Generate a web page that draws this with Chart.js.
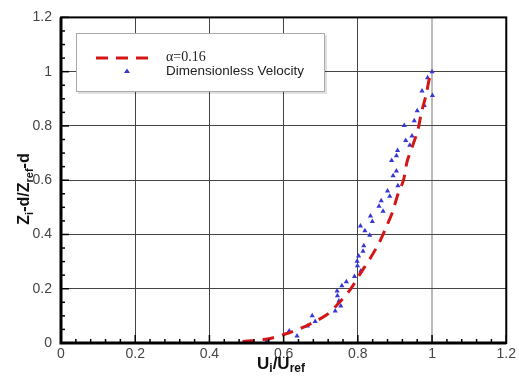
<!DOCTYPE html>
<html>
<head>
<meta charset="utf-8">
<script src="https://cdn.jsdelivr.net/npm/chart.js@4/dist/chart.umd.min.js"></script>
<style>
  html, body { margin: 0; padding: 0; background: #fff; }
  #wrap { width: 519px; height: 376px; position: relative; }
</style>
</head>
<body>
<div id="wrap"><canvas id="perfil"></canvas></div>
<script>
// measured points (U/Uref, Z/Zref)
const velU = [1.0, 0.988, 0.973, 1.001, 0.979, 0.96, 0.952, 0.925, 0.946, 0.929, 0.94, 0.907,
  0.904, 0.891, 0.904, 0.895, 0.908, 0.88, 0.886, 0.863, 0.857, 0.868, 0.834, 0.839,
  0.807, 0.819, 0.832, 0.816, 0.814, 0.802, 0.798, 0.799, 0.808, 0.791, 0.769, 0.757,
  0.744, 0.745, 0.749, 0.754, 0.739, 0.677, 0.685, 0.664, 0.615, 0.636, 0.555];
const velZ = [1.0, 0.978, 0.929, 0.912, 0.875, 0.856, 0.819, 0.802, 0.763, 0.746, 0.729, 0.709,
  0.69, 0.673, 0.634, 0.616, 0.58, 0.56, 0.541, 0.524, 0.504, 0.486, 0.468, 0.448,
  0.431, 0.414, 0.397, 0.358, 0.338, 0.321, 0.301, 0.285, 0.265, 0.245, 0.226, 0.211,
  0.192, 0.174, 0.155, 0.136, 0.118, 0.1, 0.079, 0.063, 0.044, 0.026, 0.006];

// power law curve alpha = 0.16
const perfilU = [0.489, 0.56, 0.609, 0.667, 0.716, 0.747, 0.778, 0.809, 0.835, 0.858, 0.876,
  0.893, 0.908, 0.923, 0.933, 0.947, 0.962, 0.971, 0.984, 0.993, 1.0];
const perfilZ = [0.005, 0.016, 0.035, 0.067, 0.104, 0.145, 0.194, 0.261, 0.316, 0.371, 0.426,
  0.481, 0.548, 0.6, 0.67, 0.725, 0.786, 0.847, 0.915, 0.975, 1.0];

const ticksX = [0, 0.2, 0.4, 0.6, 0.8, 1, 1.2];
const ticksY = [0, 0.2, 0.4, 0.6, 0.8, 1, 1.2];

const rojo = "rgb(212,22,22)";
const azul = "rgb(55,55,215)";

// subscript text helper
function textoSub(ctx, partes, x, y, size) {
  let w = 0;
  partes.forEach(p => {
    ctx.font = (p.sub ? "bold " + Math.round(size * 0.7) : "bold " + size) + "px 'Liberation Sans', Arial";
    w += ctx.measureText(p.t).width;
  });
  let cx = x - w / 2;
  partes.forEach(p => {
    const s = p.sub ? Math.round(size * 0.7) : size;
    ctx.font = "bold " + s + "px 'Liberation Sans', Arial";
    ctx.fillText(p.t, cx, p.sub ? y + size * 0.3 : y);
    cx += ctx.measureText(p.t).width;
  });
}

const marco = {
  id: "marco",
  afterDraw(chart) {
    const ctx = chart.ctx;
    const a = chart.chartArea;
    const sx = chart.scales.x, sy = chart.scales.y;
    ctx.save();
    ctx.strokeStyle = "#000";
    // minor + major ticks, inward
    ctx.lineWidth = 1.5;
    for (let i = 0; i <= 30; i++) {
      const px = sx.getPixelForValue(i * 0.04);
      const len = i % 5 === 0 ? 8 : 4;
      ctx.beginPath(); ctx.moveTo(px, a.bottom); ctx.lineTo(px, a.bottom - len); ctx.stroke();
    }
    for (let i = 0; i <= 24; i++) {
      const py = sy.getPixelForValue(i * 0.05);
      const len = i % 4 === 0 ? 8 : 4;
      ctx.beginPath(); ctx.moveTo(a.left, py); ctx.lineTo(a.left + len, py); ctx.stroke();
    }
    // frame
    ctx.lineWidth = 2;
    ctx.strokeRect(a.left, a.top, a.right - a.left, a.bottom - a.top);
    ctx.lineWidth = 3;
    ctx.beginPath();
    ctx.moveTo(a.left, a.top); ctx.lineTo(a.left, a.bottom); ctx.lineTo(a.right, a.bottom);
    ctx.stroke();

    // legend box
    ctx.fillStyle = "rgba(0,0,0,0.12)";
    ctx.fillRect(78, 35, 249, 59);
    ctx.fillStyle = "#fff";
    ctx.fillRect(76, 33, 249, 59);
    ctx.strokeStyle = "#aaa";
    ctx.lineWidth = 1;
    ctx.strokeRect(76.5, 33.5, 248, 58);
    ctx.strokeStyle = rojo;
    ctx.lineWidth = 3;
    ctx.setLineDash([12, 8]);
    ctx.beginPath(); ctx.moveTo(96, 58); ctx.lineTo(150, 58); ctx.stroke();
    ctx.setLineDash([]);
    ctx.fillStyle = azul;
    ctx.beginPath(); ctx.moveTo(127, 68.5); ctx.lineTo(130, 73); ctx.lineTo(124, 73); ctx.closePath(); ctx.fill();
    ctx.fillStyle = "#222";
    ctx.textBaseline = "middle";
    ctx.textAlign = "left";
    ctx.font = "14px 'Liberation Serif', 'DejaVu Serif'";
    ctx.fillText("\u03b1=0.16", 166, 57);
    ctx.font = "13.5px 'Liberation Sans', Arial";
    ctx.fillText("Dimensionless Velocity", 166, 71);

    // axis titles
    ctx.fillStyle = "#111";
    ctx.textAlign = "left";
    ctx.textBaseline = "middle";
    textoSub(ctx, [{t: "U"}, {t: "i", sub: true}, {t: "/U"}, {t: "ref", sub: true}], 281, 364, 17);
    ctx.translate(25, 189);
    ctx.rotate(-Math.PI / 2);
    textoSub(ctx, [{t: "Z"}, {t: "i", sub: true}, {t: "-d/Z"}, {t: "ref", sub: true}, {t: "-d"}], 0, 0, 16);
    ctx.restore();
  }
};

new Chart(document.getElementById("perfil").getContext("2d"), {
  type: "scatter",
  data: {
    datasets: [
      {
        label: "\u03b1=0.16",
        data: perfilU.map((u, i) => ({x: u, y: perfilZ[i]})),
        showLine: true,
        borderColor: rojo,
        borderWidth: 3,
        borderDash: [12, 8],
        pointRadius: 0,
        tension: 0.3,
        fill: false,
      },
      {
        label: "Dimensionless Velocity",
        data: velU.map((u, i) => ({x: u, y: velZ[i]})),
        pointStyle: "triangle",
        pointRadius: 3,
        backgroundColor: azul,
        borderColor: azul,
        borderWidth: 0,
      },
    ],
  },
  options: {
    responsive: true,
    maintainAspectRatio: false,
    animation: false,
    layout: { padding: { top: 14, right: 11, left: 0, bottom: 0 } },
    plugins: { legend: { display: false }, tooltip: { enabled: false } },
    scales: {
      x: {
        type: "linear",
        min: 0, max: 1.2,
        afterFit: s => { s.height = 33; },
        afterBuildTicks: s => { s.ticks = ticksX.map(v => ({value: v})); },
        grid: {
          drawTicks: false,
          color: c => (c.tick && c.tick.value === 1 ? "#bbb" : "#444"),
          lineWidth: c => (c.tick && c.tick.value === 1 ? 2 : 1),
        },
        border: { display: false },
        ticks: {
          padding: 3,
          color: "#444",
          font: { family: "'Liberation Sans', Arial", size: 14 },
          callback: v => String(v),
        },
      },
      y: {
        type: "linear",
        min: 0, max: 1.2,
        afterFit: s => { s.width = 61; },
        afterBuildTicks: s => { s.ticks = ticksY.map(v => ({value: v})); },
        grid: { drawTicks: false, color: "#444", lineWidth: 1 },
        border: { display: false },
        ticks: {
          padding: 9,
          color: "#444",
          font: { family: "'Liberation Sans', Arial", size: 14 },
          callback: v => String(v),
        },
      },
    },
  },
  plugins: [marco],
});
</script>
</body>
</html>
